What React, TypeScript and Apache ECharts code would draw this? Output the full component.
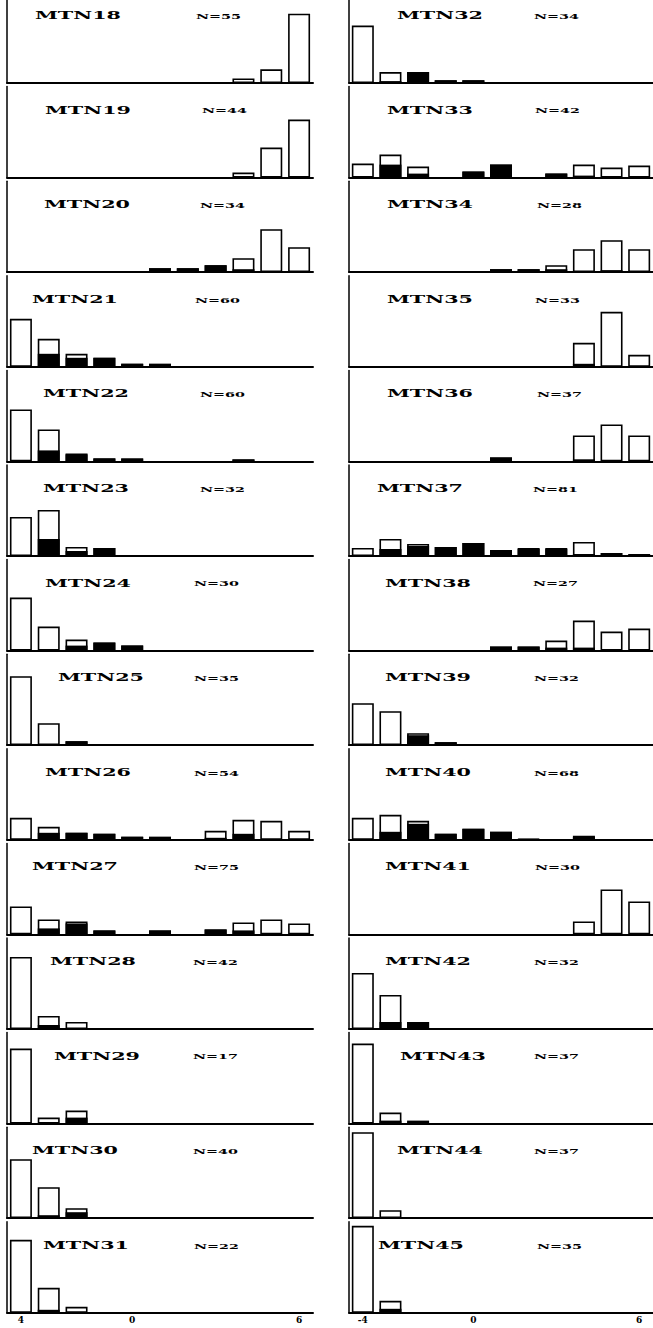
import React, { useEffect, useRef } from "react";
import * as echarts from "echarts";

// ---------- data ----------
const bins = ["-4", "-3", "-2", "-1", "0", "1", "2", "3", "4", "5", "6"];
const leftTickLabels = ["4", "0", "6"];
const rightTickLabels = ["-4", "0", "6"];
const tickBins = ["-4", "0", "6"];

const leftNames = ["MTN18", "MTN19", "MTN20", "MTN21", "MTN22", "MTN23", "MTN24", "MTN25", "MTN26", "MTN27", "MTN28", "MTN29", "MTN30", "MTN31"];
const leftN = [55, 44, 34, 60, 60, 32, 30, 35, 54, 75, 42, 17, 40, 22];
const rightNames = ["MTN32", "MTN33", "MTN34", "MTN35", "MTN36", "MTN37", "MTN38", "MTN39", "MTN40", "MTN41", "MTN42", "MTN43", "MTN44", "MTN45"];
const rightN = [34, 42, 28, 33, 37, 81, 27, 32, 68, 30, 32, 37, 37, 35];

// totals (outlined bars) and black portions, bins -4 .. 6
const mtn18 = [0, 0, 0, 0, 0, 0, 0, 0, 5, 15, 76];
const mtn18Black = [0, 0, 0, 0, 0, 0, 0, 0, 0, 0, 0];
const mtn19 = [0, 0, 0, 0, 0, 0, 0, 0, 5, 30, 58];
const mtn19Black = [0, 0, 0, 0, 0, 0, 0, 0, 0, 0, 0];
const mtn20 = [0, 0, 0, 0, 0, 4, 4, 7, 14, 43, 25];
const mtn20Black = [0, 0, 0, 0, 0, 4, 4, 7, 3, 0, 0];
const mtn21 = [48, 28, 13, 9, 3, 3, 0, 0, 0, 0, 0];
const mtn21Black = [0, 13, 9, 9, 3, 3, 0, 0, 0, 0, 0];
const mtn22 = [52, 32, 8, 3, 3, 0, 0, 0, 2, 0, 0];
const mtn22Black = [0, 11, 7, 3, 3, 0, 0, 0, 2, 0, 0];
const mtn23 = [39, 46, 9, 8, 0, 0, 0, 0, 0, 0, 0];
const mtn23Black = [0, 17, 5, 8, 0, 0, 0, 0, 0, 0, 0];
const mtn24 = [53, 24, 11, 8, 5, 0, 0, 0, 0, 0, 0];
const mtn24Black = [0, 0, 5, 8, 5, 0, 0, 0, 0, 0, 0];
const mtn25 = [69, 22, 4, 0, 0, 0, 0, 0, 0, 0, 0];
const mtn25Black = [0, 0, 4, 0, 0, 0, 0, 0, 0, 0, 0];
const mtn26 = [22, 13, 7, 6, 3, 3, 0, 9, 20, 19, 9];
const mtn26Black = [0, 7, 7, 6, 3, 3, 0, 2, 6, 0, 0];
const mtn27 = [28, 15, 13, 4, 0, 4, 0, 5, 12, 15, 11];
const mtn27Black = [0, 6, 11, 4, 0, 4, 0, 5, 4, 0, 0];
const mtn28 = [72, 13, 7, 0, 0, 0, 0, 0, 0, 0, 0];
const mtn28Black = [0, 4, 0, 0, 0, 0, 0, 0, 0, 0, 0];
const mtn29 = [75, 6, 13, 0, 0, 0, 0, 0, 0, 0, 0];
const mtn29Black = [0, 0, 6, 0, 0, 0, 0, 0, 0, 0, 0];
const mtn30 = [59, 31, 10, 0, 0, 0, 0, 0, 0, 0, 0];
const mtn30Black = [0, 3, 6, 0, 0, 0, 0, 0, 0, 0, 0];
const mtn31 = [73, 25, 6, 0, 0, 0, 0, 0, 0, 0, 0];
const mtn31Black = [0, 3, 0, 0, 0, 0, 0, 0, 0, 0, 0];

const mtn32 = [63, 12, 12, 3, 3, 0, 0, 0, 0, 0, 0];
const mtn32Black = [0, 2, 12, 3, 3, 0, 0, 0, 0, 0, 0];
const mtn33 = [14, 23, 11, 0, 6, 13, 0, 4, 13, 10, 12];
const mtn33Black = [0, 13, 4, 0, 6, 13, 0, 4, 2, 0, 0];
const mtn34 = [0, 0, 0, 0, 0, 3, 3, 7, 23, 32, 23];
const mtn34Black = [0, 0, 0, 0, 0, 3, 3, 3, 0, 2, 0];
const mtn35 = [0, 0, 0, 0, 0, 0, 0, 0, 24, 55, 12];
const mtn35Black = [0, 0, 0, 0, 0, 0, 0, 0, 3, 0, 0];
const mtn36 = [0, 0, 0, 0, 0, 4, 0, 0, 26, 37, 26];
const mtn36Black = [0, 0, 0, 0, 0, 4, 0, 0, 2, 0, 0];
const mtn37 = [8, 17, 12, 9, 13, 6, 8, 8, 14, 3, 2];
const mtn37Black = [0, 7, 10, 9, 13, 6, 7, 7, 2, 0, 0];
const mtn38 = [0, 0, 0, 0, 0, 4, 4, 10, 30, 19, 22];
const mtn38Black = [0, 0, 0, 0, 0, 4, 4, 3, 3, 0, 0];
const mtn39 = [42, 34, 12, 3, 0, 0, 0, 0, 0, 0, 0];
const mtn39Black = [0, 1, 10, 3, 0, 0, 0, 0, 0, 0, 0];
const mtn40 = [22, 25, 19, 6, 11, 8, 1, 0, 4, 0, 0];
const mtn40Black = [0, 8, 16, 6, 11, 8, 1, 0, 3, 0, 0];
const mtn41 = [0, 0, 0, 0, 0, 0, 0, 0, 13, 45, 33];
const mtn41Black = [0, 0, 0, 0, 0, 0, 0, 0, 0, 0, 0];
const mtn42 = [56, 34, 7, 0, 0, 0, 0, 0, 0, 0, 0];
const mtn42Black = [0, 7, 7, 0, 0, 0, 0, 0, 0, 0, 0];
const mtn43 = [80, 11, 3, 0, 0, 0, 0, 0, 0, 0, 0];
const mtn43Black = [0, 3, 1, 0, 0, 0, 0, 0, 0, 0, 0];
const mtn44 = [86, 8, 0, 0, 0, 0, 0, 0, 0, 0, 0];
const mtn44Black = [0, 0, 0, 0, 0, 0, 0, 0, 0, 0, 0];
const mtn45 = [87, 12, 0, 0, 0, 0, 0, 0, 0, 0, 0];
const mtn45Black = [0, 4, 0, 0, 0, 0, 0, 0, 0, 0, 0];

const leftTotals = [mtn18, mtn19, mtn20, mtn21, mtn22, mtn23, mtn24, mtn25, mtn26, mtn27, mtn28, mtn29, mtn30, mtn31];
const leftBlacks = [mtn18Black, mtn19Black, mtn20Black, mtn21Black, mtn22Black, mtn23Black, mtn24Black, mtn25Black, mtn26Black, mtn27Black, mtn28Black, mtn29Black, mtn30Black, mtn31Black];
const rightTotals = [mtn32, mtn33, mtn34, mtn35, mtn36, mtn37, mtn38, mtn39, mtn40, mtn41, mtn42, mtn43, mtn44, mtn45];
const rightBlacks = [mtn32Black, mtn33Black, mtn34Black, mtn35Black, mtn36Black, mtn37Black, mtn38Black, mtn39Black, mtn40Black, mtn41Black, mtn42Black, mtn43Black, mtn44Black, mtn45Black];

// ---------- layout ----------
const W = 653;
const H = 1328;
const FIRST_BASE = 83;
const STEP = 94.6;
const PANEL_H = 91;
const Y_MAX = 91;
const columns = [
  { left: 7, width: 306 },
  { left: 349, width: 306 },
];
const leftTitleX = [35, 45, 44, 32, 43, 43, 45, 58, 45, 32, 50, 54, 32, 43];
const rightTitleX = [397, 387, 387, 387, 387, 377, 385, 385, 385, 385, 385, 400, 397, 378];
const leftNX = [196, 202, 200, 195, 200, 200, 194, 194, 194, 194, 193, 193, 193, 194];
const rightNX = [534, 535, 537, 535, 537, 533, 533, 534, 534, 535, 534, 534, 534, 537];

const TITLE_FONT_SIZE = 11;
const N_FONT_SIZE = 8;
const FONT = "'DejaVu Serif', 'Liberation Serif', serif";

function measure(text: string, size: number): number {
  const c = document.createElement("canvas").getContext("2d");
  if (!c) return text.length * size * 0.7;
  c.font = `bold ${size}px ${FONT}`;
  return c.measureText(text).width;
}

const nz = (v: number) => (v > 0 ? v : "-");

export default function App() {
  const ref = useRef<HTMLDivElement>(null);
  useEffect(() => {
    if (!ref.current) return;
    const chart = echarts.init(ref.current, undefined, { renderer: "svg", width: W, height: H });

    const titleScale = 86 / measure("MTN20", TITLE_FONT_SIZE);
    const nScale = 45 / measure("N=55", N_FONT_SIZE);

    const grid: any[] = [];
    const xAxis: any[] = [];
    const yAxis: any[] = [];
    const series: any[] = [];
    const graphic: any[] = [];

    const cols = [
      { names: leftNames, ns: leftN, totals: leftTotals, blacks: leftBlacks, tx: leftTitleX, nx: leftNX, ticks: leftTickLabels },
      { names: rightNames, ns: rightN, totals: rightTotals, blacks: rightBlacks, tx: rightTitleX, nx: rightNX, ticks: rightTickLabels },
    ];

    cols.forEach((col, ci) => {
      col.names.forEach((name, pi) => {
        const idx = grid.length;
        const base = FIRST_BASE + pi * STEP;
        const isBottom = pi === col.names.length - 1;
        grid.push({
          left: columns[ci].left,
          width: columns[ci].width,
          top: base - PANEL_H,
          height: PANEL_H,
          containLabel: false,
        });
        xAxis.push({
          type: "category",
          gridIndex: idx,
          data: bins,
          boundaryGap: true,
          axisLine: { show: true, lineStyle: { color: "#000", width: 2 } },
          axisTick: { show: false },
          splitLine: { show: false },
          axisLabel: {
            show: isBottom,
            interval: 0,
            margin: 3,
            color: "#000",
            fontSize: 9,
            fontWeight: "bold",
            fontFamily: FONT,
            formatter: (v: string) => {
              const k = tickBins.indexOf(v);
              return k >= 0 ? col.ticks[k] : "";
            },
          },
        });
        yAxis.push({
          type: "value",
          gridIndex: idx,
          min: 0,
          max: Y_MAX,
          axisLine: { show: true, lineStyle: { color: "#000", width: 1.5 } },
          axisTick: { show: false },
          axisLabel: { show: false },
          splitLine: { show: false },
        });
        series.push({
          type: "bar",
          name: name + " total",
          xAxisIndex: idx,
          yAxisIndex: idx,
          data: col.totals[pi].map(nz),
          barWidth: 22,
          barGap: "-100%",
          clip: false,
          itemStyle: { color: "#fff", borderColor: "#000", borderWidth: 1.6 },
          silent: true,
          z: 2,
        });
        series.push({
          type: "bar",
          name: name + " black",
          xAxisIndex: idx,
          yAxisIndex: idx,
          data: col.blacks[pi].map(nz),
          barWidth: 22,
          barGap: "-100%",
          clip: false,
          itemStyle: { color: "#000" },
          silent: true,
          z: 3,
        });
        graphic.push({
          type: "text",
          x: col.tx[pi],
          y: base - 68,
          scaleX: titleScale,
          style: {
            text: name,
            fill: "#000",
            font: `bold ${TITLE_FONT_SIZE}px ${FONT}`,
            textAlign: "left",
            textVerticalAlign: "middle",
          },
          z: 10,
        });
        graphic.push({
          type: "text",
          x: col.nx[pi],
          y: base - 67,
          scaleX: nScale,
          style: {
            text: "N=" + col.ns[pi],
            fill: "#000",
            font: `bold ${N_FONT_SIZE}px ${FONT}`,
            textAlign: "left",
            textVerticalAlign: "middle",
          },
          z: 10,
        });
      });
    });

    chart.setOption({
      animation: false,
      backgroundColor: "#fff",
      grid,
      xAxis,
      yAxis,
      series,
      graphic,
    });
    return () => chart.dispose();
  }, []);

  return (
    <div
      ref={ref}
      style={{ position: "absolute", left: 0, top: 0, width: W, height: H, background: "#fff" }}
    />
  );
}
